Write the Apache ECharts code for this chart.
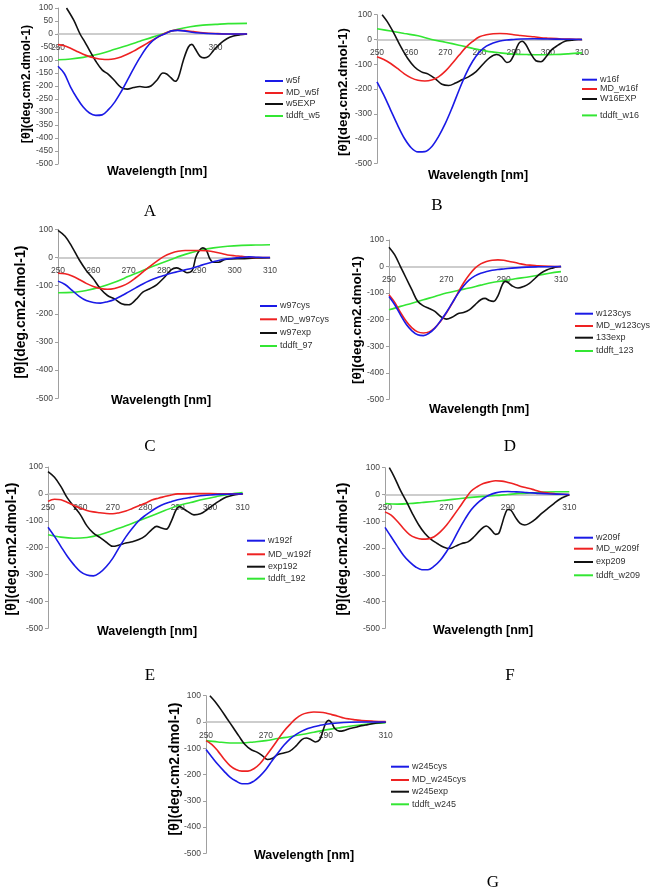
<!DOCTYPE html>
<html>
<head>
<meta charset="utf-8">
<script src="https://cdn.jsdelivr.net/npm/echarts@6/dist/echarts.min.js"></script>
<style>
html,body{margin:0;padding:0;background:#fff;}
#c{width:652px;height:894px;}
</style>
</head>
<body>
<div id="c"></div>
<script>
// ---------------- DATA (wavelength nm, [θ]) ----------------
// Panel A
const A_w5f = [[250,-124],[252,-152],[254,-204],[256,-246],[258,-281],[260,-304],[262,-313],[264,-311],[266,-291],[268,-262],[270,-223],[272,-178],[274,-133],[276,-91],[278,-54],[280,-27],[282,-9],[284,1],[286,12],[288,14],[290,12],[292,8],[295,4],[300,1],[305,0],[310,0]];
const A_MD_w5f = [[250,-41],[252,-45],[254,-55],[256,-67],[258,-78],[260,-87],[262,-93],[264,-97],[266,-98],[268,-95],[270,-88],[272,-78],[274,-66],[276,-52],[278,-38],[280,-24],[282,-10],[284,3],[286,12],[288,15],[290,13],[293,9],[296,5],[300,2],[305,0],[310,0]];
const A_w5EXP = [[252.7,100],[255,53],[257,0],[258.5,-30],[260,-63],[262,-105],[264,-138],[266,-155],[268,-180],[270,-205],[272,-212],[274,-206],[276,-202],[278,-205],[279.5,-200],[281.5,-176],[283.3,-150],[284.5,-154],[285.8,-168],[287.2,-182],[288.2,-168],[289.8,-101],[291.4,-50],[292.5,-40],[293.5,-56],[295.1,-86],[296.4,-92],[297.8,-86],[299.4,-63],[301.5,-37],[303.6,-18],[305.7,-8],[307.8,-3],[310,0]];
const A_tddft_w5 = [[250,-99],[254,-96],[258,-90],[262,-80],[264,-74],[268,-59],[272,-44],[276,-28],[280,-12],[284,3],[288,18],[292,28],[296,34],[300,37],[304,40],[310,41]];
// Panel B
const B_w16f = [[250,-171],[252,-225],[254,-285],[256,-345],[258,-399],[260,-437],[262,-454],[264,-453],[266,-433],[268,-392],[270,-339],[272,-275],[274,-205],[276,-140],[278,-88],[280,-50],[282,-27],[284,-14],[286,-6],[288,-2],[290,0],[292,2],[296,3],[300,2],[305,1],[310,0]];
const B_MD_w16f = [[250,-70],[252,-81],[254,-97],[256,-117],[258,-139],[260,-155],[262,-165],[264,-168],[266,-164],[268,-151],[270,-128],[272,-97],[274,-64],[276,-32],[278,-8],[280,11],[282,19],[284,23],[286,24],[288,23],[290,19],[292,16],[294,13],[296,11],[298,7],[300,5],[304,2],[308,1],[310,0]];
const B_W16EXP = [[251.5,100],[253,72],[255,24],[257,-30],[259,-77],[261,-111],[263,-131],[265,-140],[267,-158],[269,-181],[271,-186],[273,-176],[275,-162],[277,-149],[279,-130],[281,-100],[283,-73],[285,-61],[286.5,-70],[288,-93],[289,-88],[290,-64],[291.5,-16],[292.5,-7],[293.5,-19],[295,-57],[296.5,-86],[298,-90],[299.5,-70],[301,-43],[303,-23],[305,-7],[307,-3],[309,0],[310,0]];
const B_tddft_w16 = [[250,43],[254,34],[258,24],[262,15],[266,0],[270,-11],[274,-23],[278,-36],[282,-47],[286,-54],[290,-59],[294,-61],[298,-62],[302,-61],[306,-58],[310,-54]];
// Panel C
const C_w97cys = [[250,-84],[252,-96],[254,-117],[256,-138],[258,-153],[260,-160],[262,-162],[264,-157],[266,-149],[268,-136],[270,-122],[272,-108],[274,-94],[276,-82],[278,-72],[280,-64],[282,-56],[284,-50],[286,-44],[288,-38],[290,-30],[292,-22],[294,-15],[296,-9],[298,-5],[300,-2],[302,0],[304,2],[306,1],[308,0],[310,0]];
const C_MD_w97cys = [[250,-56],[252,-58],[254,-66],[256,-78],[258,-92],[260,-103],[262,-110],[264,-113],[266,-110],[268,-102],[270,-90],[272,-72],[274,-52],[276,-32],[278,-13],[280,4],[282,15],[284,22],[286,25],[288,25],[290,25],[292,24],[294,20],[296,15],[298,9],[300,6],[302,4],[304,1],[306,0],[310,0]];
const C_w97exp = [[250,96],[252,75],[254,37],[256,-8],[258,-46],[260,-76],[262,-111],[264,-135],[266,-147],[268,-164],[270,-168],[272,-150],[274,-123],[276,-111],[278,-96],[280,-72],[282,-44],[283.5,-37],[285,-44],[286.5,-54],[288,-46],[289,1],[290,25],[291,34],[292,25],[293,-5],[294,-17],[295.5,-17],[297,-8],[299,-5],[302,-4],[306,-2],[310,-1]];
const C_tddft_97 = [[250,-125],[254,-124],[258,-117],[262,-105],[266,-88],[270,-67],[274,-46],[278,-26],[282,-7],[286,11],[290,25],[294,34],[298,40],[302,43],[306,44],[310,45]];
// Panel D
const D_w123cys = [[250,-113],[252,-144],[254,-182],[256,-217],[258,-242],[260,-257],[262,-260],[264,-251],[266,-232],[268,-204],[270,-173],[272,-138],[274,-103],[276,-73],[278,-50],[280,-35],[282,-25],[284,-19],[286,-14],[288,-11],[290,-9],[294,-5],[298,-2],[302,-1],[310,0]];
const D_MD_w123cys = [[250,-106],[252,-135],[254,-173],[256,-206],[258,-231],[260,-246],[262,-250],[264,-246],[266,-231],[268,-206],[270,-175],[272,-140],[274,-100],[276,-62],[278,-31],[280,-6],[282,10],[284,19],[286,24],[288,25],[290,24],[292,19],[294,15],[296,10],[298,6],[300,5],[302,3],[306,1],[310,0]];
const D_133exp = [[250,73],[252,44],[254,0],[256,-44],[258,-88],[260,-131],[262,-148],[264,-158],[266,-169],[268,-188],[270,-198],[272,-191],[274,-178],[276,-173],[278,-163],[280,-144],[282,-125],[283.5,-120],[285,-128],[286.5,-131],[288,-110],[289.5,-69],[290.5,-56],[291.5,-60],[293,-73],[295,-81],[297,-75],[299,-63],[301,-44],[303,-25],[305,-13],[307,-6],[309,-1],[310,0]];
const D_tddft_123 = [[250,-163],[254,-150],[258,-138],[262,-125],[266,-113],[270,-100],[274,-90],[278,-81],[282,-70],[286,-60],[290,-54],[294,-46],[298,-40],[302,-33],[306,-25],[310,-19]];
// Panel E
const E_w192f = [[250,-124],[252,-158],[254,-196],[256,-233],[258,-264],[260,-289],[262,-302],[264,-305],[266,-293],[268,-270],[270,-239],[272,-198],[274,-160],[276,-128],[278,-100],[280,-80],[282,-63],[284,-48],[286,-37],[288,-29],[290,-22],[292,-17],[294,-13],[296,-9],[298,-6],[300,-4],[303,-2],[306,-1],[310,0]];
const E_MD_w192f = [[250,-28],[252,-20],[254,-22],[256,-32],[258,-43],[260,-53],[262,-62],[264,-67],[266,-70],[268,-73],[270,-74],[272,-70],[274,-64],[276,-54],[278,-44],[280,-35],[282,-23],[284,-16],[286,-10],[288,-4],[290,0],[295,1],[300,1],[305,0],[310,0]];
const E_exp192 = [[250,83],[252,62],[254,27],[256,-16],[258,-47],[260,-78],[262,-119],[264,-146],[266,-162],[268,-180],[270,-195],[272,-190],[274,-183],[276,-178],[278,-170],[280,-156],[282,-133],[283.5,-121],[285,-127],[286.5,-131],[288,-102],[289.5,-59],[290.5,-47],[291.5,-53],[293,-65],[295,-78],[297,-74],[299,-59],[301,-41],[303,-25],[305,-12],[307,-5],[309,-1],[310,0]];
const E_tddft_192 = [[250,-152],[254,-161],[258,-165],[262,-162],[266,-152],[270,-136],[274,-119],[278,-100],[282,-81],[286,-62],[290,-44],[294,-32],[298,-20],[302,-10],[306,-1],[310,5]];
// Panel F
const F_w209f = [[250,-123],[252,-158],[254,-193],[256,-227],[258,-252],[260,-271],[262,-281],[264,-281],[266,-268],[268,-246],[270,-214],[272,-177],[274,-133],[276,-93],[278,-58],[280,-33],[282,-15],[284,-2],[286,6],[288,10],[290,11],[292,10],[294,9],[296,7],[298,6],[300,4],[304,2],[308,1],[310,0]];
const F_MD_w209f = [[250,-65],[252,-77],[254,-100],[256,-127],[258,-150],[260,-162],[262,-167],[264,-166],[266,-158],[268,-140],[270,-115],[272,-84],[274,-52],[276,-19],[278,12],[280,29],[282,41],[284,47],[286,51],[288,50],[290,45],[292,39],[294,31],[296,25],[298,19],[300,12],[302,7],[304,4],[306,2],[310,0]];
const F_exp209 = [[251.4,100],[253,66],[255,16],[257,-27],[259,-73],[261,-114],[263,-146],[265,-168],[267,-183],[269,-196],[271,-202],[273,-193],[275,-183],[277,-177],[279,-158],[281,-133],[283,-118],[284.5,-131],[286,-149],[287,-146],[288,-114],[289,-77],[290,-56],[291,-59],[292.5,-86],[294,-108],[295.5,-114],[297,-108],[299,-92],[301,-71],[303,-52],[305,-34],[307,-17],[309,-6],[310,-2]];
const F_tddft_w209 = [[250,-34],[254,-36],[258,-34],[262,-30],[266,-26],[270,-21],[274,-16],[278,-11],[282,-7],[286,-4],[290,0],[294,4],[298,6],[302,9],[306,10],[310,10]];
// Panel G
const G_w245cys = [[250,-105],[252,-134],[254,-162],[256,-187],[258,-210],[260,-225],[262,-235],[264,-235],[266,-225],[268,-206],[270,-181],[272,-149],[274,-118],[276,-89],[278,-65],[280,-48],[282,-35],[284,-25],[286,-18],[288,-13],[290,-9],[294,-4],[298,-1],[302,0],[310,0]];
const G_MD_w245cys = [[250,-71],[252,-86],[254,-111],[256,-141],[258,-166],[260,-181],[262,-187],[264,-187],[266,-178],[268,-159],[270,-130],[272,-99],[274,-67],[276,-35],[278,-10],[280,13],[282,28],[284,35],[286,38],[288,37],[290,34],[292,28],[294,22],[296,15],[298,11],[300,8],[302,5],[306,3],[310,2]];
const G_w245exp = [[251.3,100],[253,78],[255,47],[257,13],[259,-20],[261,-54],[263,-86],[265,-105],[267,-115],[269,-130],[270.5,-143],[272,-139],[274,-124],[276,-118],[278,-111],[280,-92],[282,-67],[283.5,-61],[285,-67],[286.5,-76],[288,-67],[289,-35],[290,-4],[291,6],[292,-4],[293,-25],[294.5,-35],[296,-33],[298,-25],[300,-20],[302,-14],[304,-10],[306,-6],[308,-3],[310,-1]];
const G_tddft_w245 = [[250,-71],[254,-76],[258,-80],[262,-80],[266,-76],[270,-71],[274,-63],[278,-56],[282,-48],[286,-39],[290,-30],[294,-23],[298,-16],[302,-11],[306,-6],[310,-3]];

const X_MIN = 250, X_MAX = 310, Y_MIN = -500, Y_MAX = 100;
const Y_TITLE = '[θ](deg.cm2.dmol-1)';
const X_TITLE = 'Wavelength [nm]';

// ---------------- LAYOUT ----------------
const BLUE = '#1a1ae6', RED = '#ee2222', BLACK = '#111111', GREEN = '#33e633';
const panels = [
  {letter:'A', grid:[58,8,189,156], xInt:50, yInt:50, showMax:false,
   series:[['w5f',A_w5f,BLUE],['MD_w5f',A_MD_w5f,RED],['w5EXP',A_w5EXP,BLACK],['tddft_w5',A_tddft_w5,GREEN]],
   leg:{x:265,w:18,ys:[81,93,104,116]}, xt:[157,172], yt:[27,84,12.5], lt:[150,212]},
  {letter:'B', grid:[377,14.7,205,148.6], xInt:10, yInt:100, showMax:true,
   series:[['w16f',B_w16f,BLUE],['MD_w16f',B_MD_w16f,RED],['W16EXP',B_W16EXP,BLACK],['tddft_w16',B_tddft_w16,GREEN]],
   leg:{x:582,w:15,ys:[79.7,89,99,115.4]}, xt:[478,175.7], yt:[343,92,13.5], lt:[437,206]},
  {letter:'C', grid:[58,229.3,212,169], xInt:10, yInt:100, showMax:true,
   series:[['w97cys',C_w97cys,BLUE],['MD_w97cys',C_MD_w97cys,RED],['w97exp',C_w97exp,BLACK],['tddft_97',C_tddft_97,GREEN]],
   leg:{x:260,w:17,ys:[306,319.3,333,346]}, xt:[161,401], yt:[21,312,14], lt:[150,447]},
  {letter:'D', grid:[389,240,172,159.3], xInt:20, yInt:100, showMax:true,
   series:[['w123cys',D_w123cys,BLUE],['MD_w123cys',D_MD_w123cys,RED],['133exp',D_133exp,BLACK],['tddft_123',D_tddft_123,GREEN]],
   leg:{x:575,w:18,ys:[313.7,326,337.7,351]}, xt:[479,409.3], yt:[357,320,13.5], lt:[510,447]},
  {letter:'E', grid:[48,467,194.6,161.3], xInt:10, yInt:100, showMax:true,
   series:[['w192f',E_w192f,BLUE],['MD_w192f',E_MD_w192f,RED],['exp192',E_exp192,BLACK],['tddft_192',E_tddft_192,GREEN]],
   leg:{x:247,w:18,ys:[540.7,554.3,566.7,578.7]}, xt:[147,632], yt:[12,549,14], lt:[150,676]},
  {letter:'F', grid:[385,467.7,184.3,160.6], xInt:20, yInt:100, showMax:true,
   series:[['w209f',F_w209f,BLUE],['MD_w209f',F_MD_w209f,RED],['exp209',F_exp209,BLACK],['tddft_w209',F_tddft_w209,GREEN]],
   leg:{x:574,w:19,ys:[537.7,548.7,562,575.3]}, xt:[483,631], yt:[343,549,14], lt:[510,676]},
  {letter:'G', grid:[206,695.7,179.7,157.6], xInt:20, yInt:100, showMax:true,
   series:[['w245cys',G_w245cys,BLUE],['MD_w245cys',G_MD_w245cys,RED],['w245exp',G_w245exp,BLACK],['tddft_w245',G_tddft_w245,GREEN]],
   leg:{x:391,w:18,ys:[766.7,780,791.7,804.3]}, xt:[304,856], yt:[175,769,14], lt:[493,883]}
];

const FONT = '"Liberation Sans", Arial, sans-serif';
const grids = [], xAxes = [], yAxes = [], series = [], legends = [], graphics = [];
panels.forEach((p, i) => {
  const h = p.grid[3];
  // x axis crosses the value axis at zero: shift the bottom axis up by the share of the range below zero
  const zeroOffset = -h * (0 - Y_MIN) / (Y_MAX - Y_MIN);
  grids.push({left:p.grid[0], top:p.grid[1], width:p.grid[2], height:h, containLabel:false});
  xAxes.push({type:'value', gridIndex:i, min:X_MIN, max:X_MAX, interval:p.xInt,
    position:'bottom', offset:zeroOffset,
    axisLine:{onZero:false, lineStyle:{color:'#bdbdbd', width:1.5}},
    axisTick:{show:false}, splitLine:{show:false},
    axisLabel:{color:'#444', fontSize:8.5, fontFamily:FONT, margin:9, showMaxLabel:p.showMax, showMinLabel:true, hideOverlap:false}});
  yAxes.push({type:'value', gridIndex:i, min:Y_MIN, max:Y_MAX, interval:p.yInt,
    axisLine:{show:true, onZero:false, lineStyle:{color:'#a0a0a0', width:1}},
    axisTick:{show:true, length:3, lineStyle:{color:'#a0a0a0'}}, splitLine:{show:false},
    axisLabel:{color:'#444', fontSize:8.5, fontFamily:FONT, margin:5, hideOverlap:false}});
  p.series.forEach((s, k) => {
    series.push({type:'line', name:s[0], xAxisIndex:i, yAxisIndex:i, data:s[1],
      smooth:0.35, symbol:'none', clip:true, lineStyle:{color:s[2], width:1.6}, itemStyle:{color:s[2]},
      z: 10 - k});
    legends.push({data:[s[0]], left:p.leg.x, top:p.leg.ys[k]-5, orient:'vertical', padding:0, itemGap:0,
      icon:'rect', itemWidth:p.leg.w, itemHeight:2, selectedMode:false,
      textStyle:{fontSize:9, fontFamily:FONT, color:'#333', lineHeight:10, padding:[0,0,0,-2]}});
  });
  graphics.push({type:'text', x:p.yt[0], y:p.yt[1], rotation:Math.PI/2,
    style:{text:Y_TITLE, x:0, y:0, align:'center', verticalAlign:'middle', fill:'#000',
      font:'bold ' + p.yt[2] + 'px ' + FONT}});
  graphics.push({type:'text', x:p.xt[0], y:p.xt[1],
    style:{text:X_TITLE, x:0, y:0, align:'center', verticalAlign:'middle', fill:'#000',
      font:'bold 12.5px ' + FONT}});
  graphics.push({type:'text', x:p.lt[0], y:p.lt[1],
    style:{text:p.letter, x:0, y:0, align:'center', verticalAlign:'middle', fill:'#000',
      font:'17px "Liberation Serif", "Times New Roman", serif'}});
});

const chart = echarts.init(document.getElementById('c'), null, {renderer:'canvas'});
chart.setOption({
  animation:false,
  backgroundColor:'#ffffff',
  grid:grids, xAxis:xAxes, yAxis:yAxes, series:series, legend:legends, graphic:graphics
});
</script>
</body>
</html>
